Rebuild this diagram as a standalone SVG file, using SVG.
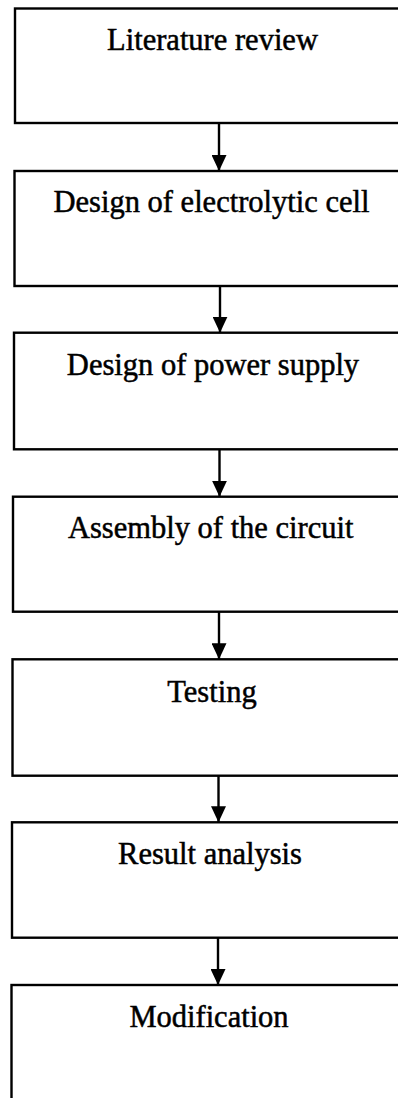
<svg xmlns="http://www.w3.org/2000/svg" width="398" height="1098" viewBox="0 0 398 1098">
<style>
.box{fill:#fff;stroke:#000;stroke-width:2.4}
.lbl{font-family:"Liberation Serif","Times New Roman",serif;font-size:30.5px;fill:#000;stroke:#000;stroke-width:0.5;text-anchor:middle}
.conn{stroke:#000;stroke-width:2.4;fill:none}
</style>
<defs>
<marker id="arr" viewBox="0 0 16 15" refX="16" refY="7.5" markerWidth="16" markerHeight="15" markerUnits="userSpaceOnUse" orient="auto">
<path d="M0,0 L16,7.5 L0,15 Z" fill="#000"/>
</marker>
</defs>
<g id="n1"><rect class="box" x="15" y="8.5" width="420" height="114.5"/><text class="lbl" x="212.5" y="50">Literature review</text></g>
<g id="n2"><rect class="box" x="14.5" y="171" width="420" height="115"/><text class="lbl" x="211.5" y="212">Design of electrolytic cell</text></g>
<g id="n3"><rect class="box" x="14" y="332.7" width="420" height="116.6"/><text class="lbl" x="213" y="375">Design of power supply</text></g>
<g id="n4"><rect class="box" x="13" y="496.7" width="420" height="115"/><text class="lbl" x="210.7" y="538">Assembly of the circuit</text></g>
<g id="n5"><rect class="box" x="12.5" y="659.3" width="420" height="116.4"/><text class="lbl" x="212" y="701.7">Testing</text></g>
<g id="n6"><rect class="box" x="12" y="822.3" width="420" height="115.4"/><text class="lbl" x="210" y="864">Result analysis</text></g>
<g id="n7"><rect class="box" x="11.5" y="985" width="420" height="140"/><text class="lbl" x="209" y="1027">Modification</text></g>
<g id="connectors">
<line class="conn" x1="219" y1="123" x2="219" y2="171" marker-end="url(#arr)"/>
<line class="conn" x1="220" y1="286" x2="220" y2="332.7" marker-end="url(#arr)"/>
<line class="conn" x1="219.5" y1="449.3" x2="219.5" y2="496.7" marker-end="url(#arr)"/>
<line class="conn" x1="219" y1="611.7" x2="219" y2="659.3" marker-end="url(#arr)"/>
<line class="conn" x1="218.5" y1="775.7" x2="218.5" y2="822.3" marker-end="url(#arr)"/>
<line class="conn" x1="218" y1="937.7" x2="218" y2="985" marker-end="url(#arr)"/>
</g>
</svg>
